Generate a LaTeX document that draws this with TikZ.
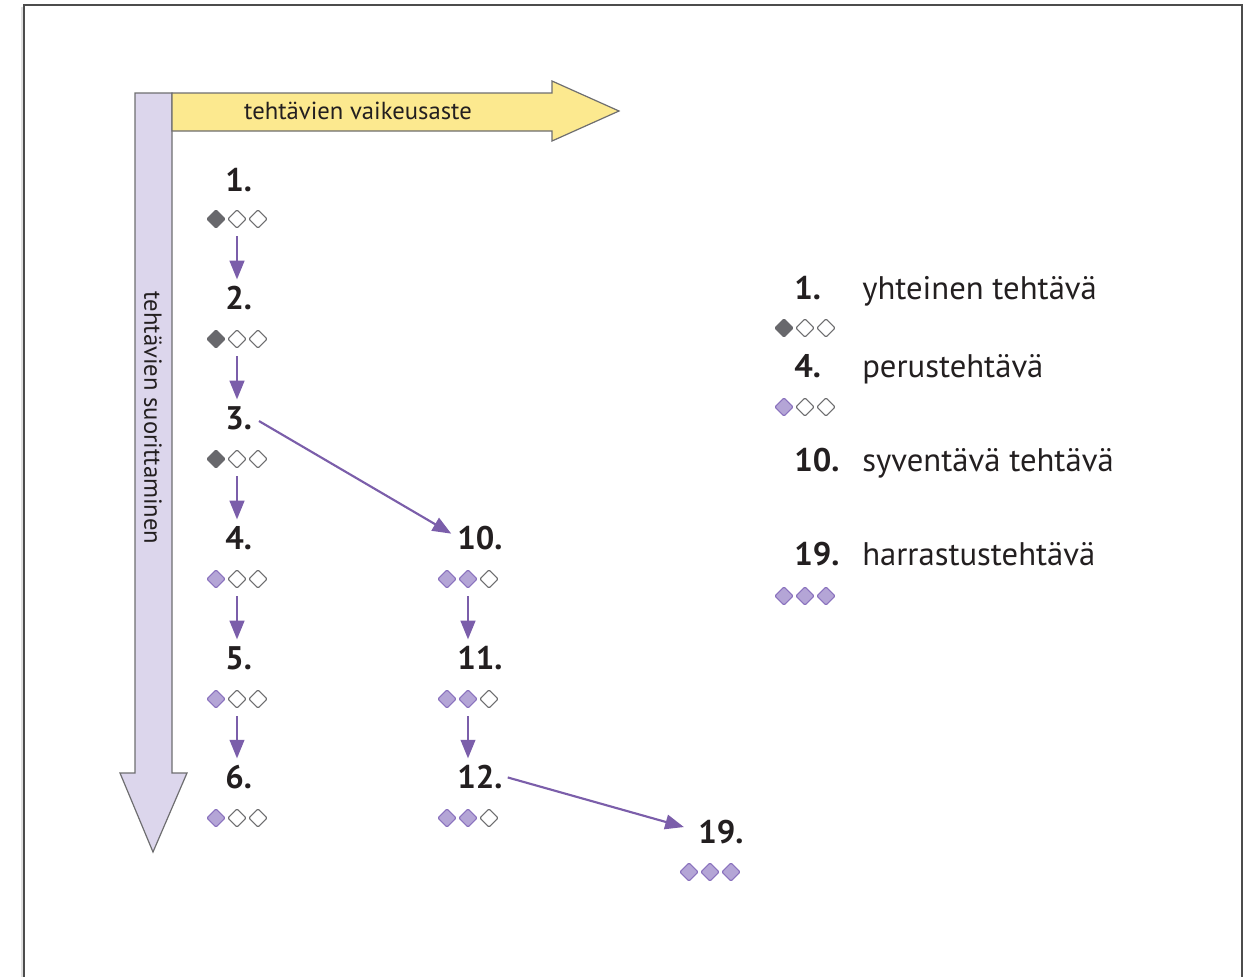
\documentclass[tikz,border=0pt]{standalone}
\usepackage{fontspec}
\setmainfont{PT Sans}
\usetikzlibrary{shapes.geometric,arrows.meta}

\definecolor{ink}{RGB}{35,31,32}
\definecolor{edge}{RGB}{110,110,112}
\definecolor{lav}{RGB}{220,214,236}
\definecolor{yel}{RGB}{252,233,143}
\definecolor{flowc}{RGB}{123,94,170}
\definecolor{violetfill}{RGB}{180,165,214}
\definecolor{violetedge}{RGB}{138,114,190}
\definecolor{darkmark}{RGB}{104,104,108}

\tikzset{
  bigarrow/.style={draw=edge, line width=0.9pt, line join=miter},
  axislabel/.style={font=\fontsize{18.5}{22}\selectfont, text=ink, inner sep=0pt},
  num/.style={font=\bfseries\fontsize{24.5}{28}\selectfont, text=ink, inner sep=0pt,
              text height=18pt, text depth=0pt, anchor=base west},
  legendtext/.style={font=\fontsize{24.5}{28}\selectfont, text=ink, inner sep=0pt, anchor=base west},
  mk/.style={shape=diamond, minimum size=13.8pt, inner sep=0pt, outer sep=0pt,
             rounded corners=1pt, line width=0.8pt},
  full/.style={mk, fill=darkmark, draw=darkmark},
  violet/.style={mk, fill=violetfill, draw=violetedge},
  empty/.style={mk, fill=white, draw=edge},
  flow/.style={draw=flowc, line width=1.6pt, -{Triangle[length=14pt,width=11pt]}},
}

% a row of three difficulty markers: name, x, y, three styles
\newcommand\markrow[6]{%
  \node[#4] (#1a) at (#2-21,#3) {};
  \node[#5] (#1b) at (#2,#3) {};
  \node[#6] (#1c) at (#2+21,#3) {};
}

\begin{document}
\begin{tikzpicture}[x=0.75pt,y=-0.75pt]
\useasboundingbox (0,0) rectangle (1252,976);

% page frame
\draw[black!12, line width=2pt] (22,980) -- (22,7);
\draw[black!70, line width=1pt] (24,980) -- (24,5) -- (1242,5) -- (1242,980);

% axis arrows
\draw[bigarrow, fill=lav] (135,93) -- (172,93) -- (172,773) -- (187,773) -- (153,852)
  -- (120,773) -- (135,773) -- cycle;
\draw[bigarrow, fill=yel] (172,93) -- (552,93) -- (552,81) -- (619,111) -- (552,141)
  -- (552,131) -- (172,131) -- cycle;
\node[axislabel] (difficulty) at (358,111) {tehtävien vaikeusaste};
\node[axislabel, rotate=-90] (progress) at (153,418) {tehtävien suorittaminen};

% left column
\node[num] (n1) at (225,191) {1.};
\markrow{m1}{237}{219}{full}{empty}{empty}
\node[num] (n2) at (225,309) {2.};
\markrow{m2}{237}{339}{full}{empty}{empty}
\node[num] (n3) at (225,429) {3.};
\markrow{m3}{237}{459}{full}{empty}{empty}
\node[num] (n4) at (225,549) {4.};
\markrow{m4}{237}{579}{violet}{empty}{empty}
\node[num] (n5) at (225,669) {5.};
\markrow{m5}{237}{699}{violet}{empty}{empty}
\node[num] (n6) at (225,788) {6.};
\markrow{m6}{237}{818}{violet}{empty}{empty}

% middle column
\node[num] (n10) at (457,549) {10.};
\markrow{m10}{468}{579}{violet}{violet}{empty}
\node[num] (n11) at (457,669) {11.};
\markrow{m11}{468}{699}{violet}{violet}{empty}
\node[num] (n12) at (457,788) {12.};
\markrow{m12}{468}{818}{violet}{violet}{empty}

% right column
\node[num] (n19) at (698,843) {19.};
\markrow{m19}{710}{872}{violet}{violet}{violet}

% progression arrows
\foreach \a/\b in {m1/n2, m2/n3, m3/n4, m4/n5, m5/n6, m10/n11, m11/n12}
  \draw[flow, shorten <=6pt, shorten >=4pt] (\a b.south) -- (\a b.south |- \b.north);
\draw[flow, shorten <=6pt, shorten >=5pt] (n3.east) -- (n10.west);
\draw[flow, shorten <=4pt, shorten >=11pt] (n12.east) -- (n19.west);

% legend
\node[num] (l1) at (794,299) {1.};
\node[legendtext] (t1) at (862,299) {yhteinen tehtävä};
\markrow{lm1}{805}{328}{full}{empty}{empty}
\node[num] (l4) at (794,377) {4.};
\node[legendtext] (t4) at (862,377) {perustehtävä};
\markrow{lm4}{805}{407}{violet}{empty}{empty}
\node[num] (l10) at (794,471) {10.};
\node[legendtext] (t10) at (862,471) {syventävä tehtävä};
\node[num] (l19) at (794,565) {19.};
\node[legendtext] (t19) at (862,565) {harrastustehtävä};
\markrow{lm19}{805}{596}{violet}{violet}{violet}
\end{tikzpicture}
\end{document}
